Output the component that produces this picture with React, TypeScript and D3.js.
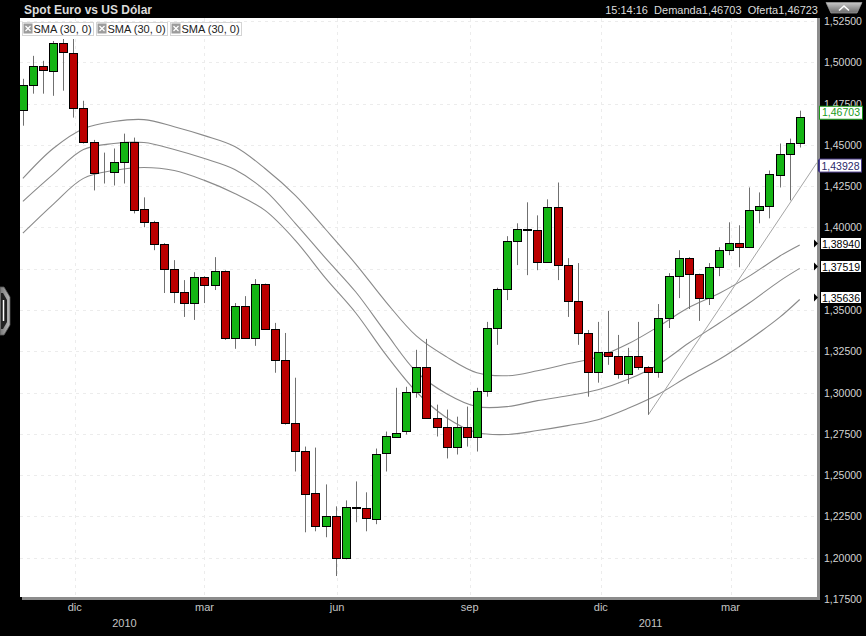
import React from "react";
import * as d3 from "d3";

// ---------- DATA ----------
const FIRST_WEEK = new Date(2009, 9, 26);

const opens = [
  1.4713, 1.4864, 1.4978, 1.4948, 1.5117, 1.5057, 1.4725, 1.4520, 1.4333, 1.4339,
  1.4399, 1.4520, 1.4110, 1.4031, 1.3898, 1.3747, 1.3609, 1.3542, 1.3699, 1.3648,
  1.3735, 1.3331, 1.3524, 1.3331, 1.3657, 1.3385, 1.3198, 1.2818, 1.2649, 1.2390,
  1.2191, 1.2251, 1.1997, 1.2305, 1.2300, 1.2239, 1.2631, 1.2734, 1.2770, 1.3005,
  1.3156, 1.2848, 1.2794, 1.2673, 1.2794, 1.2734, 1.3011, 1.3391, 1.3627, 1.3916,
  1.3989, 1.3985, 1.3790, 1.4122, 1.3772, 1.3554, 1.3361, 1.3126, 1.3247, 1.3222,
  1.3114, 1.3222, 1.3156, 1.3126, 1.3452, 1.3705, 1.3814, 1.3717, 1.3572, 1.3759,
  1.3862, 1.3904, 1.3880, 1.4103, 1.4128, 1.4321, 1.4447, 1.4514,
];
const highs = [
  1.4900, 1.5039, 1.5009, 1.5129, 1.5141, 1.5141, 1.4767, 1.4530, 1.4453, 1.4478,
  1.4568, 1.4544, 1.4182, 1.4040, 1.3905, 1.3802, 1.3681, 1.3729, 1.3705, 1.3820,
  1.3740, 1.3542, 1.3584, 1.3687, 1.3660, 1.3422, 1.3361, 1.3090, 1.2673, 1.2667,
  1.2444, 1.2311, 1.2347, 1.2462, 1.2396, 1.2661, 1.2764, 1.3029, 1.3035, 1.3259,
  1.3325, 1.2927, 1.2897, 1.2854, 1.2915, 1.3029, 1.3428, 1.3635, 1.3947, 1.4025,
  1.4152, 1.4073, 1.4170, 1.4272, 1.3814, 1.3784, 1.3379, 1.3428, 1.3494, 1.3349,
  1.3271, 1.3428, 1.3160, 1.3536, 1.3723, 1.3862, 1.3820, 1.3720, 1.3784, 1.3880,
  1.4031, 1.4013, 1.4242, 1.4212, 1.4345, 1.4508, 1.4538, 1.4707,
];
const lows = [
  1.4616, 1.4810, 1.4810, 1.4797, 1.4828, 1.4665, 1.4508, 1.4224, 1.4266, 1.4254,
  1.4266, 1.4085, 1.4001, 1.3862, 1.3603, 1.3542, 1.3458, 1.3440, 1.3542, 1.3621,
  1.3319, 1.3265, 1.3325, 1.3283, 1.3380, 1.3120, 1.2806, 1.2522, 1.2154, 1.2160,
  1.2124, 1.1889, 1.1990, 1.2215, 1.2160, 1.2203, 1.2522, 1.2730, 1.2746, 1.2969,
  1.2840, 1.2734, 1.2601, 1.2625, 1.2673, 1.2643, 1.2975, 1.3289, 1.3560, 1.3772,
  1.3711, 1.3741, 1.3785, 1.3681, 1.3458, 1.3289, 1.2975, 1.3060, 1.3168, 1.3084,
  1.3053, 1.3138, 1.2866, 1.3090, 1.3391, 1.3572, 1.3506, 1.3434, 1.3530, 1.3705,
  1.3832, 1.3759, 1.3875, 1.4025, 1.4055, 1.4242, 1.4164, 1.4484,
];
const closes = [
  1.4864, 1.4978, 1.4954, 1.5117, 1.5063, 1.4725, 1.4520, 1.4333, 1.4330, 1.4399,
  1.4520, 1.4110, 1.4031, 1.3898, 1.3747, 1.3609, 1.3542, 1.3699, 1.3648, 1.3735,
  1.3331, 1.3524, 1.3331, 1.3657, 1.3385, 1.3198, 1.2818, 1.2649, 1.2390, 1.2191,
  1.2251, 1.1997, 1.2305, 1.2300, 1.2239, 1.2631, 1.2734, 1.2758, 1.3005, 1.3156,
  1.2848, 1.2794, 1.2673, 1.2794, 1.2734, 1.3011, 1.3391, 1.3627, 1.3916, 1.3989,
  1.3985, 1.3790, 1.4122, 1.3772, 1.3554, 1.3361, 1.3126, 1.3247, 1.3222, 1.3114,
  1.3222, 1.3156, 1.3126, 1.3452, 1.3705, 1.3814, 1.3717, 1.3572, 1.3759, 1.3862,
  1.3904, 1.3880, 1.4103, 1.4128, 1.4321, 1.4447, 1.4514, 1.46703,
];

// SMA lines read at these candle indices
const smaIndex = [0, 3, 6, 9, 12, 15, 18, 21, 24, 27, 30, 33, 36, 39, 42, 45, 48, 51, 54, 57, 60, 63, 66, 69, 72, 75, 77];
const smaUpper = [
  1.4297, 1.4478, 1.4598, 1.4641, 1.4653, 1.4610, 1.4556, 1.4490, 1.4357, 1.4194,
  1.3989, 1.3778, 1.3548, 1.3343, 1.3216, 1.3120, 1.3102, 1.3132, 1.3174, 1.3216,
  1.3295, 1.3400, 1.3515, 1.3600, 1.3705, 1.3826, 1.38940,
];
const smaMiddle = [
  1.4158, 1.4321, 1.4472, 1.4508, 1.4514, 1.4472, 1.4417, 1.4351, 1.4224, 1.4025,
  1.3814, 1.3609, 1.3361, 1.3126, 1.2993, 1.2915, 1.2915, 1.2951, 1.2981, 1.3017,
  1.3080, 1.3170, 1.3300, 1.3420, 1.3542, 1.3675, 1.37519,
];
const smaLower = [
  1.3965, 1.4140, 1.4297, 1.4345, 1.4363, 1.4345, 1.4285, 1.4206, 1.4103, 1.3922,
  1.3693, 1.3482, 1.3228, 1.3005, 1.2848, 1.2758, 1.2746, 1.2770, 1.2800, 1.2836,
  1.2905, 1.2990, 1.3100, 1.3200, 1.3320, 1.3455, 1.35636,
];

// trend line: from a candle low to the right edge value
const trendStartIndex = 62;
const trendStartValue = 1.2866;
const trendEndValue = 1.43928;

const yTickValues = [1.175, 1.2, 1.225, 1.25, 1.275, 1.3, 1.325, 1.35, 1.375, 1.4, 1.425, 1.45, 1.475, 1.5, 1.525];
const monthTickDates = [new Date(2009, 11, 1), new Date(2010, 2, 1), new Date(2010, 5, 1), new Date(2010, 8, 1), new Date(2010, 11, 1), new Date(2011, 2, 1)];
const monthTickLabels = ["dic", "mar", "jun", "sep", "dic", "mar"];
const yearTickDates = [new Date(2010, 0, 1), new Date(2011, 0, 1)];
const yearTickLabels = ["2010", "2011"];
const legendLabels = ["SMA (30, 0)", "SMA (30, 0)", "SMA (30, 0)"];
const titleText = "Spot Euro vs US Dólar";
const quoteText = "15:14:16  Demanda1,46703  Oferta1,46723";

// ---------- LAYOUT ----------
const W = 866, H = 636;
const PL = 20, PT = 18, PR = 817, PB = 597;
const RED = "#bb0000", GREEN = "#14b414";
const FONT = "'Liberation Sans', Arial, sans-serif";

const candleDates = opens.map((_, i) => d3.timeDay.offset(FIRST_WEEK, 7 * i));

const x = d3.scaleTime().domain([new Date(2009, 9, 24), new Date(2011, 3, 30)]).range([PL, PR]);
const y = d3.scaleLinear().domain([1.175, 1.525]).range([599, 21]);

const locale = d3.formatLocale({ decimal: ",", thousands: ".", grouping: [3], currency: ["", ""] });
const fmt = locale.format(".5f");

const smaLine = d3
  .line<number>()
  .x((_, k) => x(candleDates[smaIndex[k]]))
  .y((v) => y(v))
  .curve(d3.curveCatmullRom);

export default function App() {
  const trendX1 = x(candleDates[trendStartIndex]);
  const trendY1 = y(trendStartValue);
  const trendX2 = PR;
  const trendY2 = y(trendEndValue);
  const lastClose = closes[closes.length - 1];
  const smaEnds = [smaUpper[smaUpper.length - 1], smaMiddle[smaMiddle.length - 1], smaLower[smaLower.length - 1]];
  const smaLabelY = smaEnds.map((v) => Math.round(y(v)) - 1.5);
  // tick labels that sit fully behind a value box are hidden, as in the source chart
  const visibleTicks = yTickValues.filter((v) => smaLabelY.every((cy) => Math.abs(y(v) - cy) > 5));

  return (
    <svg width={W} height={H} style={{ position: "absolute", left: 0, top: 0, display: "block" }} fontFamily={FONT}>
      <defs>
        <clipPath id="plotClip">
          <rect x={PL} y={PT} width={PR - PL} height={PB - PT} />
        </clipPath>
        <linearGradient id="btnGrad" x1="0" y1="0" x2="0" y2="1">
          <stop offset="0" stopColor="#c8c8c8" />
          <stop offset="1" stopColor="#6a6a6a" />
        </linearGradient>
        <linearGradient id="handleGrad" x1="0" y1="0" x2="1" y2="0">
          <stop offset="0" stopColor="#777" />
          <stop offset="1" stopColor="#bbb" />
        </linearGradient>
      </defs>
      <rect x={0} y={0} width={W} height={H} fill="#000" />

      {/* header */}
      <text x={24} y={14} fill="#dcdcdc" fontSize={12} fontWeight="bold">{titleText}</text>
      <text x={818} y={14} fill="#dcdcdc" fontSize={11} textAnchor="end" style={{ whiteSpace: "pre" }}>{quoteText}</text>
      <polygon points="826,2.5 862,2.5 857,13 831,13" fill="url(#btnGrad)" stroke="#999" strokeWidth={0.8} />
      <polyline points="839,10.5 844,6 849,10.5" fill="none" stroke="#fff" strokeWidth={1.6} />

      {/* left handle */}
      <polygon points="0,287 4,287 10,297 10,325 4,335 0,335" fill="url(#handleGrad)" stroke="#555" strokeWidth={0.8} />
      <polygon points="1,293 3,293 7,300 7,322 3,329 1,329" fill="#222" />
      <line x1={3.5} x2={3.5} y1={300} y2={321} stroke="#fff" strokeWidth={1.5} />

      {/* plot background and shadow */}
      <rect x={PR} y={PT} width={3} height={PB - PT + 3} fill="#8c8c8c" />
      <rect x={PL + 2} y={PB} width={PR - PL + 1} height={3} fill="#8c8c8c" />
      <rect x={PL} y={PT} width={PR - PL} height={PB - PT} fill="#fff" />

      <g clipPath="url(#plotClip)">
        {/* grid */}
        {yTickValues.map((v, i) => (
          <line key={"hg" + i} x1={PL} x2={PR} y1={Math.round(y(v)) + 0.5} y2={Math.round(y(v)) + 0.5} stroke="#ececec" strokeDasharray="3,4" />
        ))}
        {monthTickDates.map((d, i) => (
          <line key={"vg" + i} x1={Math.round(x(d)) + 0.5} x2={Math.round(x(d)) + 0.5} y1={PT} y2={PB} stroke="#ececec" strokeDasharray="3,4" />
        ))}

        {/* SMA lines */}
        {[smaUpper, smaMiddle, smaLower].map((s, i) => (
          <path key={"sma" + i} d={smaLine(s) || ""} fill="none" stroke="#8a8a8a" strokeWidth={1.1} />
        ))}

        {/* trend line */}
        <line x1={trendX1} y1={trendY1} x2={trendX2} y2={trendY2} stroke="#9a9a9a" strokeWidth={0.9} />

        {/* candles */}
        {opens.map((o, i) => {
          const c = closes[i];
          const cx = Math.round(x(candleDates[i])) + 0.5;
          const yo = y(o);
          const yc = y(c);
          const top = Math.round(Math.min(yo, yc)) + 0.5;
          const h = Math.round(Math.abs(yo - yc));
          const up = c >= o;
          return (
            <g key={"c" + i}>
              <line x1={cx} x2={cx} y1={y(highs[i])} y2={y(lows[i])} stroke="#707070" />
              <rect x={cx - 4} y={top} width={8} height={h} fill={up ? GREEN : RED} stroke="#000" />
            </g>
          );
        })}
      </g>

      {/* legend */}
      {legendLabels.map((t, i) => {
        const lx = 22 + i * 74;
        return (
          <g key={"lg" + i}>
            <rect x={lx + 0.5} y={22.5} width={71} height={13} fill="#fff" stroke="#d4d4d4" />
            <rect x={lx + 1.5} y={23.5} width={9} height={10} fill="#9c9c9c" />
            <line x1={lx + 3.5} y1={26} x2={lx + 8.5} y2={31} stroke="#fff" strokeWidth={1.3} />
            <line x1={lx + 8.5} y1={26} x2={lx + 3.5} y2={31} stroke="#fff" strokeWidth={1.3} />
            <text x={lx + 11.5} y={33} fontSize={11} fill="#222">{t}</text>
          </g>
        );
      })}

      {/* right axis labels */}
      {visibleTicks.map((v, i) => (
        <text key={"yt" + i} x={824} y={y(v) + 4} fontSize={10.5} fill="#d4d4d4">{fmt(v)}</text>
      ))}

      {/* last price label */}
      <rect x={819.5} y={y(lastClose) - 10.5} width={43} height={13} fill="#fff" stroke="#1a9a1a" />
      <text x={841} y={y(lastClose) - 0.5} fontSize={10.5} fill="#1a9a1a" textAnchor="middle">{fmt(lastClose)}</text>

      {/* trend line label */}
      <rect x={818} y={y(trendEndValue) - 3} width={2.5} height={12} fill="#2a2a7a" />
      <rect x={819.5} y={y(trendEndValue) - 3.5} width={42} height={13} fill="#fff" stroke="#4a3a8a" />
      <text x={840.5} y={y(trendEndValue) + 7} fontSize={10.5} fill="#2a2a6a" textAnchor="middle">{fmt(trendEndValue)}</text>

      {/* SMA labels */}
      {smaEnds.map((v, i) => {
        const cy = smaLabelY[i];
        return (
          <g key={"sl" + i}>
            <polygon points={`${814},${cy - 4} ${818},${cy} ${814},${cy + 4}`} fill="#000" />
            <rect x={820.5} y={cy - 6} width={41} height={12} fill="#fff" stroke="#000" />
            <text x={841} y={cy + 4} fontSize={10.5} fill="#000" textAnchor="middle">{fmt(v)}</text>
          </g>
        );
      })}

      {/* x axis labels */}
      {monthTickDates.map((d, i) => (
        <text key={"mt" + i} x={x(d)} y={611} fontSize={11} fill="#c4c4c4" textAnchor="middle">{monthTickLabels[i]}</text>
      ))}
      {yearTickDates.map((d, i) => (
        <text key={"yr" + i} x={x(d) + 5} y={627} fontSize={11} fill="#c4c4c4" textAnchor="middle">{yearTickLabels[i]}</text>
      ))}
    </svg>
  );
}
